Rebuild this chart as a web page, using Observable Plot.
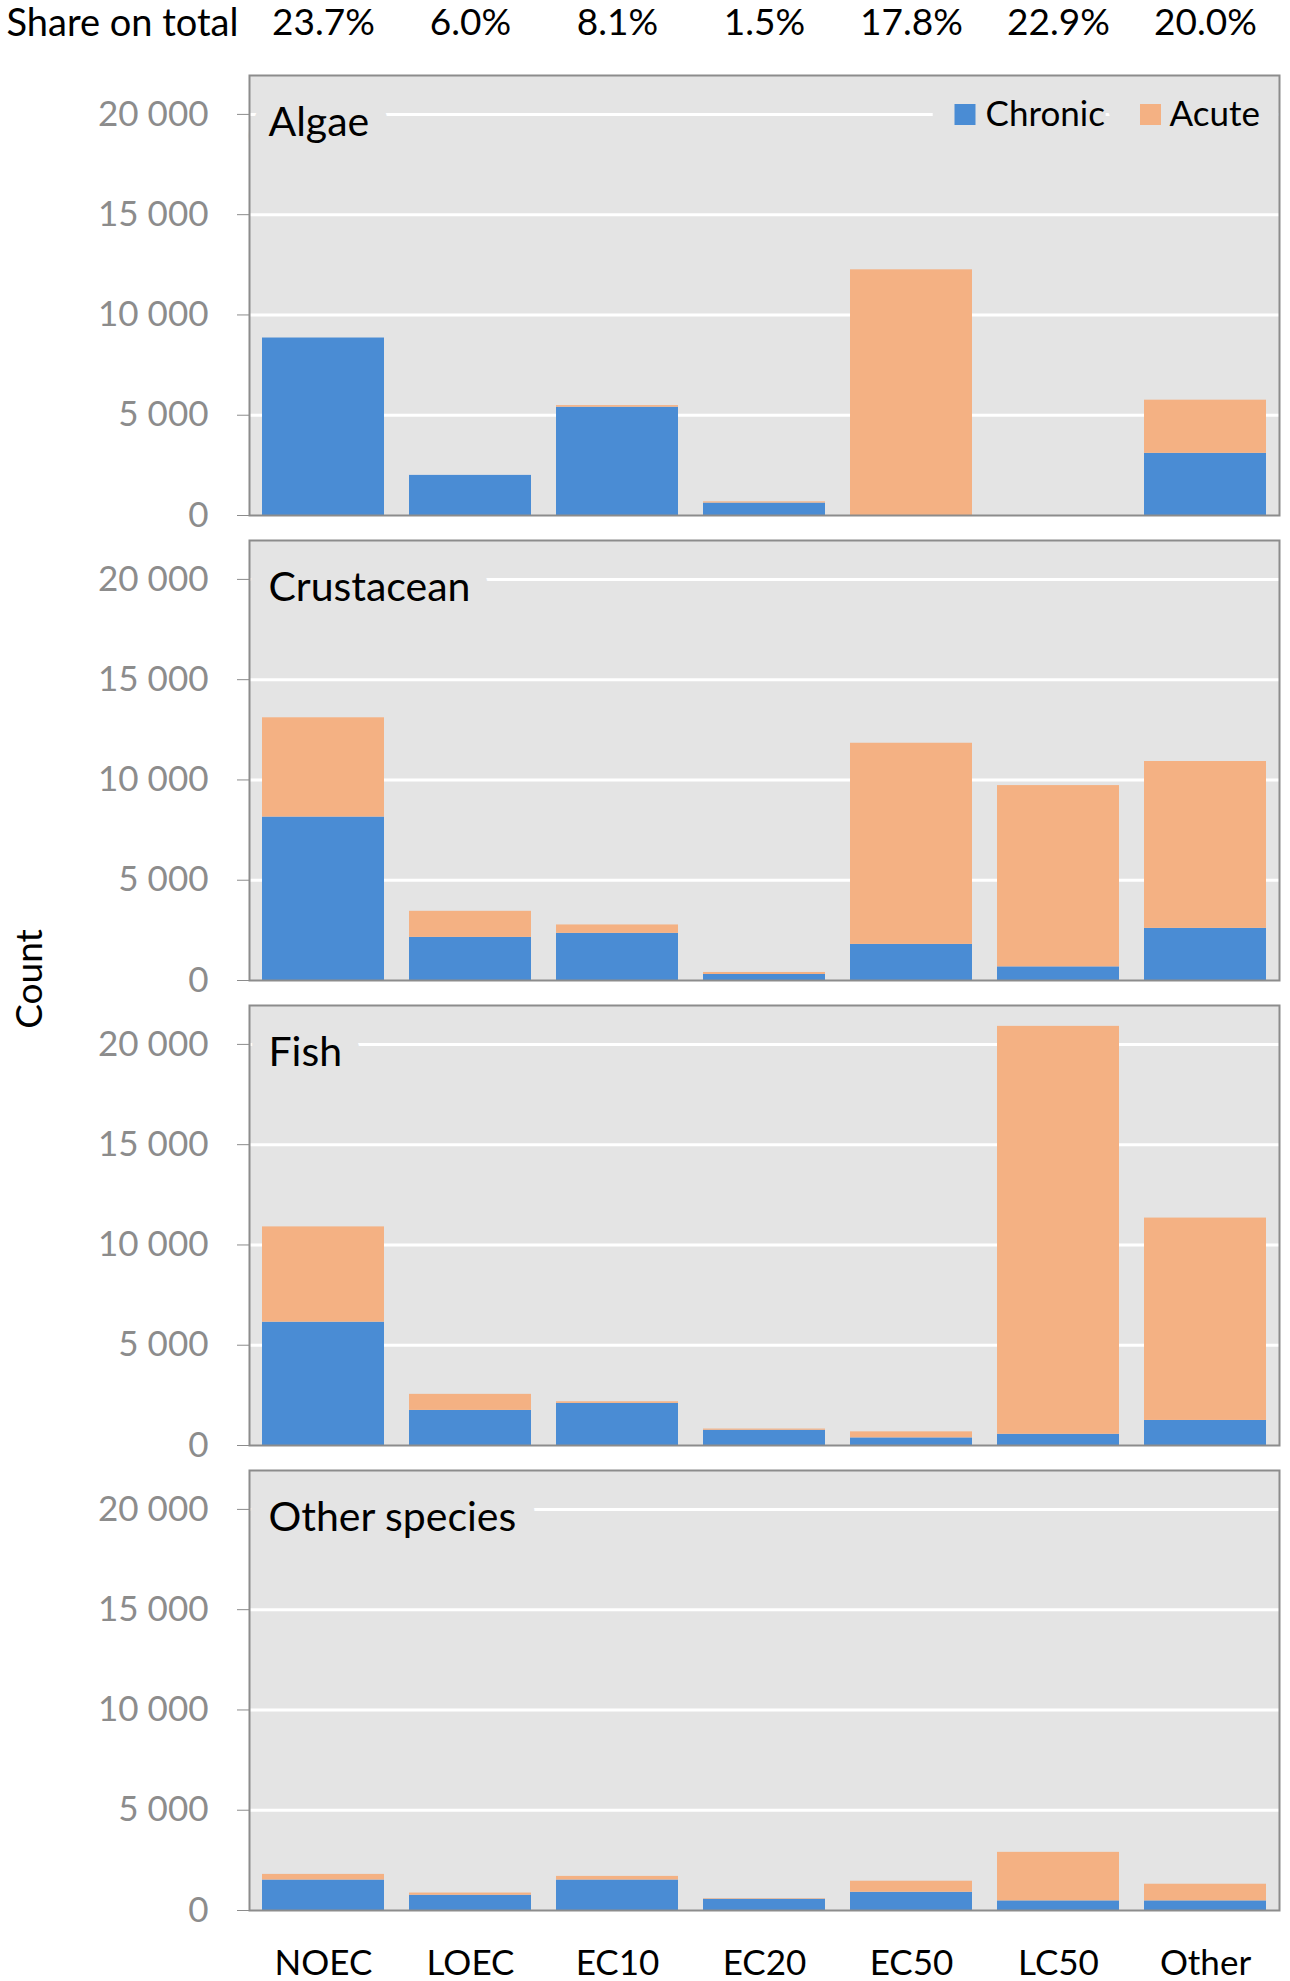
<!DOCTYPE html>
<html><head><meta charset="utf-8">
<script src="https://cdn.jsdelivr.net/npm/d3@7"></script>
<script src="https://cdn.jsdelivr.net/npm/@observablehq/plot@0.6"></script>
<style>
body{margin:0;background:#fff;}
#wrap{position:relative;width:1290px;height:1981px;}
#wrap svg{display:block;}
#count{position:absolute;left:27px;top:979px;transform:translate(-50%,-50%) rotate(-90deg);font:37px Lato,sans-serif;color:#000;white-space:nowrap;}
</style></head><body><div id="wrap"><div id="count">Count</div></div>
<script>
const categories = ["NOEC","LOEC","EC10","EC20","EC50","LC50","Other"];
const species = ["Algae","Crustacean","Fish","Other species"];
const shares = ["23.7%","6.0%","8.1%","1.5%","17.8%","22.9%","20.0%"];
const types = ["Chronic","Acute"];
const yTicks = [0,5000,10000,15000,20000];

const algaeChronic = [8850, 2000, 5400, 620, 0, 0, 3100];
const algaeAcute   = [0, 0, 80, 60, 12250, 0, 2650];
const crustaceanChronic = [8150, 2150, 2350, 300, 1800, 680, 2600];
const crustaceanAcute   = [4950, 1300, 420, 100, 10030, 9040, 8320];
const fishChronic = [6150, 1750, 2100, 760, 380, 560, 1250];
const fishAcute   = [4750, 800, 80, 60, 300, 20340, 10090];
const otherChronic = [1520, 760, 1520, 560, 910, 480, 480];
const otherAcute   = [280, 110, 180, 30, 550, 2420, 830];

const series = [
  ["Algae", algaeChronic, algaeAcute],
  ["Crustacean", crustaceanChronic, crustaceanAcute],
  ["Fish", fishChronic, fishAcute],
  ["Other species", otherChronic, otherAcute]
];
const rows = [];
for (const [sp, chr, ac] of series) {
  categories.forEach((c, i) => rows.push({species: sp, category: c, type: "Chronic", count: chr[i]}));
  categories.forEach((c, i) => rows.push({species: sp, category: c, type: "Acute", count: ac[i]}));
}
const shareRows = categories.map((c, i) => ({category: c, share: shares[i], species: "Algae"}));
const topRow = [{species: "Algae"}];
const labelRows = species.map(s => ({species: s}));

const bg = "#e4e4e4";
const blue = "#4a8cd4";
const orange = "#f4b183";
const fmt = d => d3.format(",")(d).replace(/,/g, " ");

const chart = Plot.plot({
  width: 1290, height: 1981,
  marginLeft: 249, marginRight: 11, marginTop: 73, marginBottom: 69,
  style: {fontFamily: "Lato, sans-serif", background: "white", overflow: "visible"},
  fy: {domain: species, paddingInner: 0.0536, paddingOuter: 0, axis: null, label: null},
  x: {domain: categories, paddingInner: 0.167, paddingOuter: 0.069, label: null},
  y: {domain: [0, 21940], label: null},
  color: {domain: types, range: [blue, orange]},
  marks: [
    Plot.frame({fill: bg}),
    Plot.gridY([5000,10000,15000,20000], {stroke: "white", strokeOpacity: 1, strokeWidth: 3}),
    Plot.barY(rows, {x: "category", y: "count", fill: "type", fy: "species", order: types}),
    Plot.text(labelRows, {fy: "species", text: "species", frameAnchor: "top-left", dx: 19, dy: 47,
      textAnchor: "start", lineAnchor: "middle", fontSize: 41, fill: "black", stroke: bg, strokeWidth: 40}),
    Plot.dot(topRow, {fy: "species", frameAnchor: "top-right", dx: -322, dy: 39, r: 28, symbol: "square", fill: bg}),
    Plot.dot(topRow, {fy: "species", frameAnchor: "top-right", dx: -137, dy: 39, r: 28, symbol: "square", fill: bg}),
    Plot.text(topRow, {fy: "species", text: () => types[0], frameAnchor: "top-right", dx: -294, dy: 39,
      textAnchor: "start", lineAnchor: "middle", fontSize: 35, fill: "black", stroke: bg, strokeWidth: 40}),
    Plot.text(topRow, {fy: "species", text: () => types[1], frameAnchor: "top-right", dx: -110, dy: 39,
      textAnchor: "start", lineAnchor: "middle", fontSize: 35, fill: "black", stroke: bg, strokeWidth: 40}),
    Plot.dot(topRow, {fy: "species", frameAnchor: "top-right", dx: -314.5, dy: 39, r: 11.85, symbol: "square", fill: blue}),
    Plot.dot(topRow, {fy: "species", frameAnchor: "top-right", dx: -129, dy: 39, r: 11.85, symbol: "square", fill: orange}),
    Plot.text(shareRows, {x: "category", fy: "species", text: "share", frameAnchor: "top", dy: -52,
      lineAnchor: "middle", fontSize: 37, fill: "black"}),
    Plot.text(topRow, {fy: "species", text: () => "Share on total", frameAnchor: "top-left", dx: -243, dy: -52,
      textAnchor: "start", lineAnchor: "middle", fontSize: 38, fill: "black"}),
    Plot.axisY({ticks: yTicks, tickFormat: fmt, tickSize: 12, tickPadding: 29, fontSize: 35, color: "#8c8c8c", label: null}),
    Plot.axisX({tickSize: 0, tickPadding: 40, fontSize: 35, color: "black", label: null}),
    Plot.frame({stroke: "#8c8c8c", strokeWidth: 2})
  ]
});
document.getElementById("wrap").prepend(chart);
</script>
</body></html>
